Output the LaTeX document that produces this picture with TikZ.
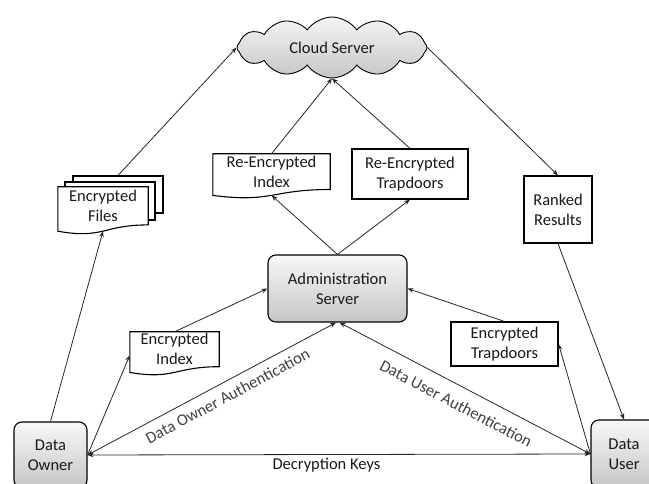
\documentclass[tikz,border=0pt]{standalone}
\usepackage{fontspec}
\setmainfont{Carlito}
\usetikzlibrary{shapes.symbols,arrows.meta,calc}
\newcommand\docnode[5]{%
  \node[minimum width=#3, minimum height=#4] (#1) at #2 {};
  \draw[boxline, fill=white] (#1.north west) -- (#1.north east) -- (#1.south east)
    .. controls (#1.south) and ($(#1.north)!1.38!(#1.south)$) .. node[coordinate,pos=0.5] (#1-bot) {}
    ($(#1.north west)!1.165!(#1.south west)$) -- cycle;
  \node (#1-txt) at (#1.center) {#5};
}
\begin{document}
\begin{tikzpicture}[x=1pt,y=-1pt,
  font=\fontsize{16.5}{20}\selectfont,
  every node/.style={align=center, inner sep=0pt, text=black!90},
  boxline/.style={draw=black, line width=1.1pt},
  rectbox/.style={boxline, fill=white},
  rbox/.style={boxline, rounded corners=8pt, top color=gray!6, bottom color=gray!45},
  tip/.tip={Stealth[length=6pt,width=4.5pt]},
  arr/.style={draw=black!85, line width=0.8pt, -tip},
  dblarr/.style={draw=black!85, line width=0.8pt, tip-tip},
  lbl/.style={text=black!75}
]
\useasboundingbox (0,0) rectangle (649,484);

% cloud
\node[cloud, cloud puffs=12, cloud puff arc=110, aspect=3.1, minimum width=190pt, minimum height=61pt,
      draw=black, line width=0.9pt, top color=gray!8, bottom color=gray!45] (cloud) at (332,47.5) {Cloud Server};

% encrypted files stack
\node[rectbox, minimum width=90pt, minimum height=37pt] (files3) at (118,194.5) {};
\node[rectbox, minimum width=90pt, minimum height=38pt] (files2) at (110,201) {};
\docnode{files}{(103,205.85)}{90pt}{37.7pt}{Encrypted\\Files}

% documents
\docnode{reindex}{(271.5,171.65)}{117pt}{35.3pt}{Re-Encrypted\\Index}
\docnode{eindex}{(174.5,349.25)}{89pt}{34.5pt}{Encrypted\\Index}

% rectangles
\node[rectbox, minimum width=116pt, minimum height=50pt] (retrap) at (410,174) {Re-Encrypted\\Trapdoors};
\node[rectbox, minimum width=68pt, minimum height=67pt] (ranked) at (558,209.5) {Ranked\\Results};
\node[rectbox, minimum width=107pt, minimum height=44pt] (etrap) at (504.5,344) {Encrypted\\Trapdoors};

% rounded boxes
\node[rbox, minimum width=139pt, minimum height=67pt] (admin) at (337.5,288.5) {Administration\\Server};
\node[rbox, minimum width=73pt, minimum height=66pt] (owner) at (50.5,455) {Data\\Owner};
\node[rbox, minimum width=66pt, minimum height=68pt] (user) at (624,454) {Data\\User};

% connectors
\draw[arr] (owner.north) -- (files-bot);
\draw[arr] (files3.north) -- (cloud.west);
\draw[arr] (cloud.east) -- (ranked.north);
\draw[arr] (ranked.south) -- (user.north);
\draw[arr] (admin.north) -- (reindex-bot);
\draw[arr] (admin.north) -- (retrap.south);
\draw[arr] (reindex.north) -- (cloud.south);
\draw[arr] (retrap.north) -- (cloud.south);
\draw[arr] (owner.east) -- ($(eindex.west)+(0,6)$);
\draw[arr] (eindex.north) -- (admin.west);
\draw[arr] (etrap.north) -- (admin.east);
\draw[arr] (user.west) -- (etrap.east);
\draw[dblarr] (owner.east) -- ($(admin.south)+(-1.5,0)$);
\draw[dblarr] ($(admin.south)+(2,0)$) -- (user.west);
\draw[dblarr] (owner.east) -- node[below=3pt, pos=0.475] (keys) {Decryption Keys} (user.west);

% rotated labels
\node[lbl, rotate=28.1] (oauth) at (227.5,396) {Data Owner Authentication};
\node[lbl, rotate=-27.7] (uauth) at (456,403.5) {Data User Authentication};
\end{tikzpicture}
\end{document}
